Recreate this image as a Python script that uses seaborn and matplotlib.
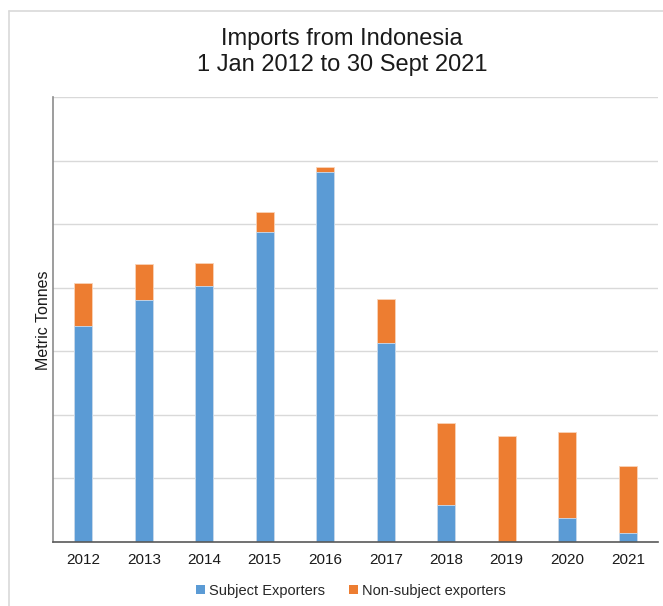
import matplotlib
matplotlib.use("Agg")
import matplotlib.pyplot as plt
from matplotlib.lines import Line2D
from matplotlib.patches import Patch
import numpy as np
import pandas as pd
import seaborn as sns

years = ["2012", "2013", "2014", "2015", "2016", "2017", "2018", "2019", "2020", "2021"]
subject = [3.40, 3.81, 4.03, 4.88, 5.82, 3.12, 0.57, 0.00, 0.38, 0.14]
non_subject = [0.68, 0.56, 0.36, 0.31, 0.08, 0.70, 1.30, 1.66, 1.34, 1.05]

BLUE = "#5B9BD5"
ORANGE = "#ED7D31"

df = pd.DataFrame({"year": years, "subject": subject, "non_subject": non_subject})
df["total"] = df["subject"] + df["non_subject"]

sns.set_theme(style="white")
plt.rcParams["font.family"] = ["Liberation Sans", "DejaVu Sans"]

W, H = 663, 606
fig = plt.figure(figsize=(W / 100, H / 100), dpi=100)

# outer frame
fig.add_artist(Line2D([9 / W, 1], [1 - 10.5 / H, 1 - 10.5 / H], transform=fig.transFigure,
                      color="#D9D9D9", lw=1.2))
fig.add_artist(Line2D([9 / W, 9 / W], [0, 1 - 10.5 / H], transform=fig.transFigure,
                      color="#D9D9D9", lw=1.2))

left, right, top, bottom = 53, 658, 97, 541.7
ax = fig.add_axes([left / W, (H - bottom) / H, (right - left) / W, (bottom - top) / H])

# stacked bars: total in orange, subject exporters on top in blue
sns.barplot(data=df, x="year", y="total", color=ORANGE, width=0.30, ax=ax,
            edgecolor="#F9D3B8", linewidth=0.6, saturation=1)
sns.barplot(data=df, x="year", y="subject", color=BLUE, width=0.30, ax=ax,
            edgecolor="#C9DDF1", linewidth=0.6, saturation=1)

ax.set_ylim(0, 7)
ax.set_xlim(-0.5, len(years) - 0.5)
ax.set_yticks(np.arange(1, 8))
ax.set_yticklabels([])
ax.tick_params(axis="y", length=0)
ax.yaxis.grid(True, color="#D9D9D9", lw=1)
ax.set_axisbelow(True)

ax.set_xticks(np.arange(len(years)))
ax.set_xticklabels(years, fontsize=11, color="#1A1A1A")
ax.set_xticks(np.arange(-0.5, len(years)), minor=True)
ax.tick_params(axis="x", which="major", length=0, pad=8)
ax.tick_params(axis="x", which="minor", length=5, width=1, color="#595959", direction="out")

for s in ["top", "right"]:
    ax.spines[s].set_visible(False)
ax.spines["left"].set_color("#8C8C8C")
ax.spines["left"].set_linewidth(1.2)
ax.spines["bottom"].set_color("#595959")
ax.spines["bottom"].set_linewidth(1.2)

ax.set_xlabel("")
ax.set_ylabel("")
fig.text(43 / W, 1 - 320 / H, "Metric Tonnes", rotation=90, ha="center", va="center",
         fontsize=11.5, color="#1A1A1A")

fig.text(342 / W, 1 - 39 / H, "Imports from Indonesia", ha="center", va="center",
         fontsize=17, color="#1A1A1A")
fig.text(342 / W, 1 - 65 / H, "1 Jan 2012 to 30 Sept 2021", ha="center", va="center",
         fontsize=17, color="#1A1A1A")

handles = [Patch(facecolor=BLUE, edgecolor="none", label="Subject Exporters"),
           Patch(facecolor=ORANGE, edgecolor="none", label="Non-subject exporters")]
fig.legend(handles=handles, loc="center", bbox_to_anchor=(351 / W, 1 - 591 / H), ncol=2,
           frameon=False, fontsize=10.5, handlelength=0.6, handleheight=0.6,
           handletextpad=0.3, columnspacing=1.6, borderaxespad=0)

fig.savefig("out.png", dpi=100)
